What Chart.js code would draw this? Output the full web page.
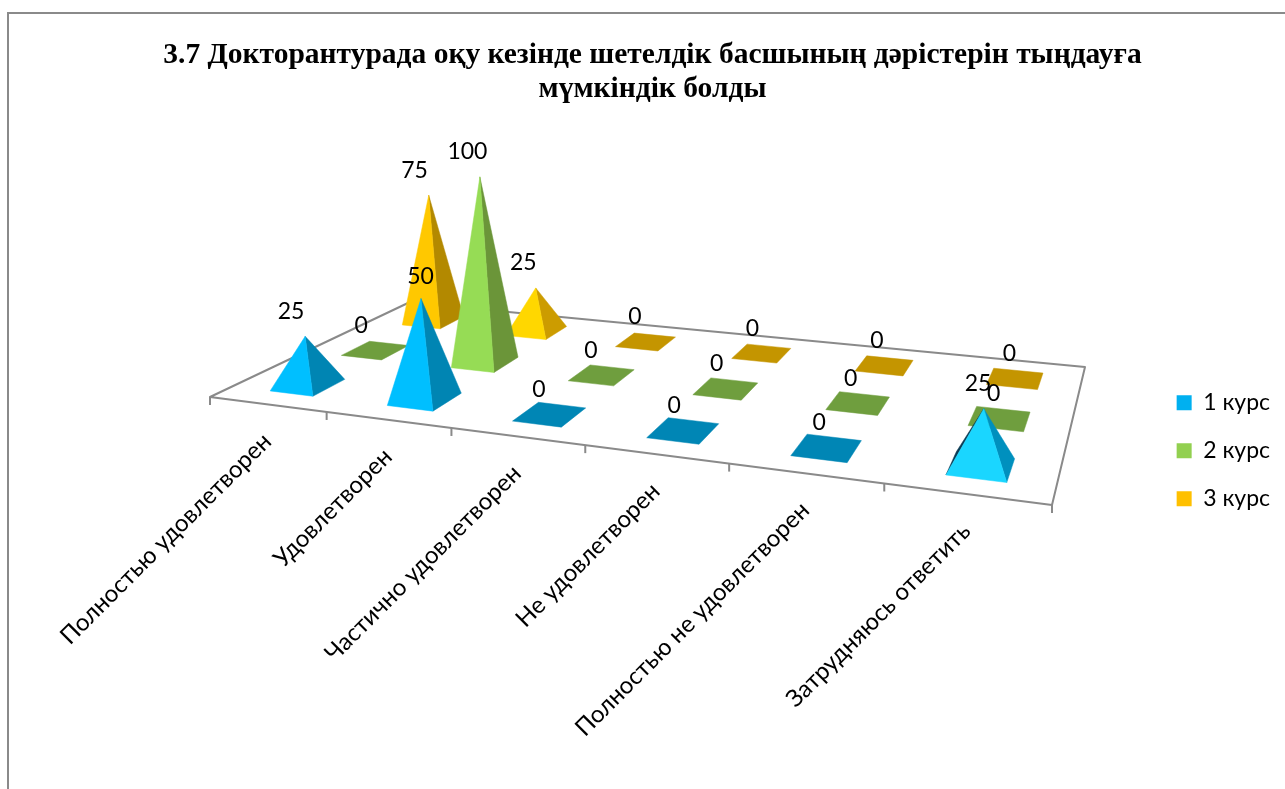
<!DOCTYPE html>
<html><head><meta charset="utf-8">
<style>html,body{margin:0;padding:0;background:#fff;overflow:hidden}canvas{display:block}</style>
<script src="https://cdn.jsdelivr.net/npm/chart.js@4/dist/chart.umd.min.js"></script>
</head><body><canvas id="c" width="1285" height="789"></canvas>
<script>
const categories = ["Полностью удовлетворен","Удовлетворен","Частично удовлетворен","Не удовлетворен","Полностью не удовлетворен","Затрудняюсь ответить"];
const seriesNames = ["1 курс","2 курс","3 курс"];
const course1 = [25,50,0,0,0,25];
const course2 = [0,100,0,0,0,0];
const course3 = [75,25,0,0,0,0];
const titleLines = ["3.7 Докторантурада оқу кезінде шетелдік басшының дәрістерін тыңдауға","мүмкіндік болды"];
const legendColors = ["#00B0F0","#92D050","#FFC000"];
const frontColors = [["#00BFFF","#00BFFF","#00BFFF","#00BFFF","#00BFFF","#1AD6FF"],
                     ["#96DC55","#96DC55","#96DC55","#96DC55","#96DC55","#96DC55"],
                     ["#FFC800","#FFD700","#FFC800","#FFC800","#FFC800","#FFC800"]];
const sideColors  = [["#0085B3","#0085B3","#0085B3","#0085B3","#0085B3","#0090BE"],
                     ["#6B9539","#6B9539","#6B9539","#6B9539","#6B9539","#6B9539"],
                     ["#B38900","#CC9C00","#B38900","#B38900","#B38900","#B38900"]];
const flatColors = ["#0086B5","#6F9E3E","#C49500"];

// floor projection (front-left, front-right, back-right, back-left)
const P = [[210,397],[1052,505],[1085,367],[409,302.5]];
const AXIS = "#8A8A8A";
function makeHomography(q){
  const [x0,y0]=q[0],[x1,y1]=q[1],[x2,y2]=q[2],[x3,y3]=q[3];
  const dx1=x1-x2,dy1=y1-y2,dx2=x3-x2,dy2=y3-y2,sx=x0-x1+x2-x3,sy=y0-y1+y2-y3;
  const den=dx1*dy2-dx2*dy1, g=(sx*dy2-dx2*sy)/den, h=(dx1*sy-sx*dy1)/den;
  const a=x1-x0+g*x1,b=x3-x0+h*x3,d=y1-y0+g*y1,e=y3-y0+h*y3;
  return (u,v)=>{const w=g*u+h*v+1;return {x:(a*u+b*v+x0)/w,y:(d*u+e*v+y0)/w,s:1/w};};
}
const floor = makeHomography(P);
const HALF_U=0.031, HALF_V=0.074, FULL_HEIGHT=200, LEAN=0.00016, LEAN_CENTER=660, SHIFT_U=0.0035;

function poly(ctx,pts,fill){ctx.beginPath();pts.forEach((p,i)=>i?ctx.lineTo(p.x,p.y):ctx.moveTo(p.x,p.y));ctx.closePath();ctx.fillStyle=fill;ctx.fill();ctx.strokeStyle=fill;ctx.lineWidth=0.5;ctx.stroke();}

const pyramid3d = {
  id:'pyramid3d',
  beforeDraw(chart){
    const c=chart.ctx;c.save();c.strokeStyle="#8A8A8A";c.lineWidth=2;c.beginPath();
    c.moveTo(8,789);c.lineTo(8,13);c.lineTo(1285,13);c.stroke();c.restore();
  },
  beforeDatasetsDraw(chart){
    const c=chart.ctx, xs=chart.scales.x, ys=chart.scales.y;
    const nDepth=chart.data.datasets.length;
    const uOf=i=>(xs.getPixelForValue(i)-xs.left)/xs.width;
    const stepU=uOf(1)-uOf(0);
    c.save();
    c.strokeStyle=AXIS;c.lineWidth=2;c.lineJoin='round';
    c.beginPath();P.forEach((p,i)=>i?c.lineTo(p[0],p[1]):c.moveTo(p[0],p[1]));c.closePath();c.stroke();
    categories.forEach((_,i)=>{
      const t=floor(uOf(i)-stepU/2,0);
      c.beginPath();c.moveTo(t.x,t.y);c.lineTo(t.x,t.y+8);c.stroke();
    });
    const t=floor(1,0);c.beginPath();c.moveTo(t.x,t.y);c.lineTo(t.x,t.y+8);c.stroke();
    c.fillStyle="#000";c.font="24px Lato";c.textAlign="right";c.textBaseline="middle";
    chart.data.labels.forEach((lab,i)=>{
      const m=floor(uOf(i),0);
      c.save();c.translate(m.x+0,m.y+33);c.rotate(-Math.PI/4);c.fillText(lab,0,0);c.restore();
    });
    const labels=[];
    for(let d=nDepth-1;d>=0;d--){
      const ds=chart.data.datasets[d], v=(d+0.5)/nDepth;
      ds.data.forEach((val,i)=>{
        const u=uOf(i)+SHIFT_U;
        const fl=floor(u-HALF_U,v-HALF_V),fr=floor(u+HALF_U,v-HALF_V),br=floor(u+HALF_U,v+HALF_V),bl=floor(u-HALF_U,v+HALF_V),ctr=floor(u,v);
        const h=(ys.getPixelForValue(0)-ys.getPixelForValue(val))/ys.height*FULL_HEIGHT*ctr.s;
        const apex={x:ctr.x+(ctr.x-LEAN_CENTER)*h*LEAN,y:ctr.y-h};
        if(val===0){poly(c,[fl,fr,br,bl],flatColors[d]);}
        else{
          const cross=(fl.x-apex.x)*(bl.y-apex.y)-(fl.y-apex.y)*(bl.x-apex.x);
          if(cross>0) poly(c,[apex,fl,bl],"#0B3C55");
          poly(c,[apex,fr,br],sideColors[d][i]);
          poly(c,[apex,fl,fr],frontColors[d][i]);
        }
        const nudge=(d===0&&i===1)?[12,3]:[0,0];
        labels.push({val,x:apex.x-15+u*10+nudge[0],y:apex.y-25+nudge[1]});
      });
    }
    c.fillStyle="#000";c.font="23px Lato";c.textAlign="center";c.textBaseline="middle";
    labels.forEach(l=>c.fillText(String(l.val),l.x,l.y));
    c.restore();
    return false;
  }
};

new Chart(document.getElementById('c'),{
  type:'bar',
  data:{labels:categories,datasets:[
    {label:seriesNames[0],data:course1,backgroundColor:legendColors[0]},
    {label:seriesNames[1],data:course2,backgroundColor:legendColors[1]},
    {label:seriesNames[2],data:course3,backgroundColor:legendColors[2]}
  ]},
  plugins:[pyramid3d],
  options:{
    responsive:false,animation:false,
    layout:{padding:{left:25,right:5,top:38,bottom:0}},
    scales:{x:{display:false},y:{display:false,min:0,max:100}},
    plugins:{
      tooltip:{enabled:false},
      title:{display:true,text:titleLines,color:"#000",font:{family:"'Liberation Serif'",size:29.5,weight:'bold',lineHeight:1.16},padding:{top:0,bottom:6}},
      legend:{position:'right',fullSize:false,labels:{boxWidth:15,boxHeight:15,padding:25,color:"#000",font:{family:"Lato",size:23}}}
    }
  }
});
</script></body></html>
